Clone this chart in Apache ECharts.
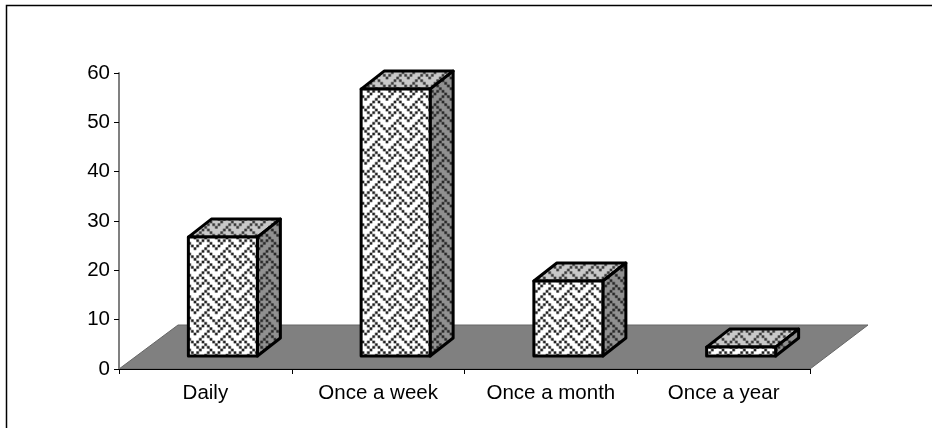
<!DOCTYPE html>
<html><head><meta charset="utf-8">
<style>html,body{margin:0;padding:0;background:#fff}#c{width:932px;height:428px}</style>
<script src="https://cdn.jsdelivr.net/npm/echarts@6/dist/echarts.min.js"></script>
</head><body><div id="c"></div>
<script>
var categories = ['Daily', 'Once a week', 'Once a month', 'Once a year'];
var values = [24.1, 54.1, 15.2, 1.8];
var yTicks = {min: 0, max: 60, step: 10};
var weaveBits = [0x88, 0x54, 0x22, 0x45, 0x88, 0x14, 0x22, 0x51];

function hex(c) { return [parseInt(c.slice(1, 3), 16), parseInt(c.slice(3, 5), 16), parseInt(c.slice(5, 7), 16)]; }
function makeTile(bg, fg, px, py) {
  var s = 64, c = document.createElement('canvas');
  c.width = s; c.height = s;
  var g = c.getContext('2d'), img = g.createImageData(s, s);
  var B = hex(bg), F = hex(fg), n = 6, scale = 64 / 24, spread = 1.7;
  for (var y = 0; y < s; y++) for (var x = 0; x < s; x++) {
    var hit = 0;
    for (var a = 0; a < n; a++) for (var b = 0; b < n; b++) {
      var sx = x + px + 64 + ((a + 0.5) / n - 0.5) * spread + 0.5;
      var sy = y + py + 64 + ((b + 0.5) / n - 0.5) * spread + 0.5;
      var u = Math.floor(sx / scale) % 8, v = Math.floor(sy / scale) % 8;
      if ((weaveBits[v] >> (7 - u)) & 1) hit++;
    }
    var t = hit / (n * n), k = (y * s + x) * 4;
    for (var i = 0; i < 3; i++) img.data[k + i] = Math.round(B[i] + (F[i] - B[i]) * t);
    img.data[k + 3] = 255;
  }
  g.putImageData(img, 0, 0);
  return c;
}
var frontTile = makeTile('#ffffff', '#202020', 41, 62);
var topTile = makeTile('#c8c8c8', '#383838', 41, 62);
var sideTile = makeTile('#909090', '#282828', 41, 62);

var chart = echarts.init(document.getElementById('c'), null, {renderer: 'canvas'});
var fontFamily = '"Liberation Sans", Arial, sans-serif';

function poly(points, fill, stroke, lw, z) {
  return {type: 'polygon', shape: {points: points}, z2: z,
    style: {fill: fill, stroke: stroke, lineWidth: lw, lineJoin: 'round'}};
}

chart.setOption({
  animation: false,
  backgroundColor: '#fff',
  grid: {left: 119, right: 122, top: 73, bottom: 59, containLabel: false},
  graphic: [{type: 'polyline', silent: true,
    shape: {points: [[6.5, 429], [6.5, 5.5], [933, 5.5]]},
    style: {stroke: '#000', lineWidth: 1.5, fill: null}}],
  xAxis: {
    type: 'category', data: categories, boundaryGap: true,
    axisLine: {show: true, lineStyle: {color: '#000', width: 1}},
    axisTick: {show: true, alignWithLabel: false, length: 5, lineStyle: {color: '#000'}},
    axisLabel: {color: '#000', fontFamily: fontFamily, fontSize: 20.5, margin: 14},
    splitLine: {show: false}, z: 5
  },
  yAxis: {
    type: 'value', min: yTicks.min, max: yTicks.max, interval: yTicks.step,
    axisLine: {show: true, lineStyle: {color: '#808080', width: 2}},
    axisTick: {show: true, length: 5, inside: false, lineStyle: {color: '#000'}},
    axisLabel: {color: '#000', fontFamily: fontFamily, fontSize: 20.5, margin: 9},
    splitLine: {show: false}, z: 5
  },
  series: [{
    type: 'custom', silent: true, clip: false, z: 1,
    data: [0],
    encode: {x: null, y: null},
    renderItem: function (p, api) {
      var bw = api.size([1, 0])[0];
      var x0 = api.coord([0, 0])[0] - bw / 2, x1 = api.coord([3, 0])[0] + bw / 2;
      var y = api.coord([0, 0])[1];
      return poly([[x0, y], [x1, y], [x1 + 58, y - 44], [x0 + 59, y - 44]], '#808080', '#666', 1, 1);
    }
  }, {
    type: 'custom', silent: true, clip: false, z: 2,
    data: values.map(function (v, i) { return [i, v]; }),
    encode: {x: 0, y: 1},
    renderItem: function (p, api) {
      var i = api.value(0), v = api.value(1);
      var c0 = api.coord([i, 0]), c = api.coord([i, v]);
      var w = 69, dx = 23, dy = 18, ox = 17.5, oy = -13;
      var l = c0[0] + ox - w / 2, r = l + w, b = c0[1] + oy, t = c[1] + oy;
      var black = '#000', lw = 3;
      return {type: 'group', children: [
        poly([[l, t], [l + dx, t - dy], [r + dx, t - dy], [r, t]], {image: topTile, repeat: 'repeat'}, black, lw, 2),
        poly([[r, t], [r + dx, t - dy], [r + dx, b - dy], [r, b]], {image: sideTile, repeat: 'repeat'}, black, lw, 2),
        poly([[l, t], [r, t], [r, b], [l, b]], {image: frontTile, repeat: 'repeat'}, black, lw, 3)
      ]};
    }
  }]
});
</script></body></html>
